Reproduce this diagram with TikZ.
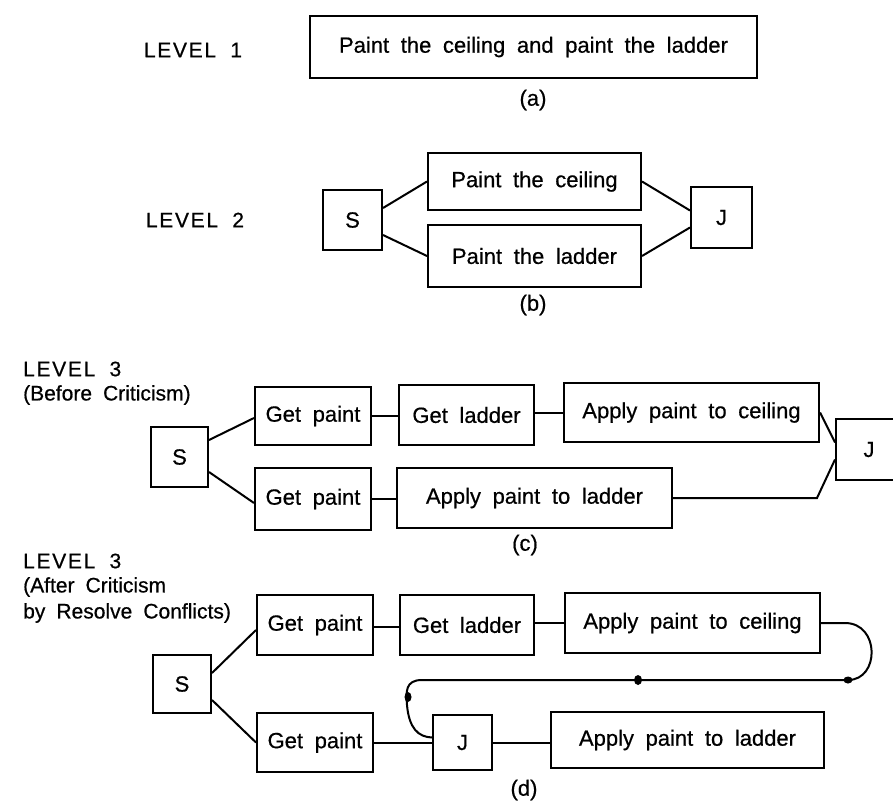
\documentclass[tikz,border=0pt]{standalone}
\usepackage{fontspec}
\setmainfont{Liberation Sans}[WordSpace=1.9, FakeBold=0.6]
\usetikzlibrary{calc}
\begin{document}
\begin{tikzpicture}[x=1pt,y=-1pt,
  every node/.style={font=\fontsize{22}{25}\selectfont},
  box/.style={draw, line width=2pt, rectangle, inner sep=0pt, align=center},
  sz/.style 2 args={minimum width=#1pt, minimum height=#2pt},
  lvl/.style={font=\fontsize{21}{24}\selectfont\addfontfeature{LetterSpace=8}},
  lft/.style={anchor=west, inner sep=0pt},
  sml/.style={font=\fontsize{21}{24}\selectfont},
  conn/.style={line width=2pt},
  blob/.style={fill=black}]
\useasboundingbox (0,0) rectangle (893,803);
\clip (0,0) rectangle (893,803);

% ---------- Level 1 ----------
\node[lvl] (t1) at (193,50) {LEVEL 1};
\node[box, sz={447}{62}] (L1) at (533.5,47) {Paint the ceiling and paint the ladder};
\node (ca) at (533,100) {(a)};

% ---------- Level 2 ----------
\node[lvl] (t2) at (195,220) {LEVEL 2};
\node[box, sz={59}{60}] (S2) at (352.5,220) {S};
\node[box, sz={213}{57}] (PC) at (534.5,181.5) {Paint the ceiling};
\node[box, sz={213}{62}] (PL) at (534.5,256) {Paint the ladder};
\node[box, sz={61}{61}] (J2) at (721.5,217.5) {J};
\node (cb) at (533,305) {(b)};
\draw[conn] ($(S2.east)+(0,-12)$) -- (PC.west);
\draw[conn] ($(S2.east)+(0,15)$) -- (PL.west);
\draw[conn] (PC.east) -- ($(J2.west)+(0,-7)$);
\draw[conn] (PL.east) -- ($(J2.west)+(0,10)$);

% ---------- Level 3 (c) ----------
\node[lvl, lft] (t3a) at (23,369) {LEVEL 3};
\node[sml, lft] (t3b) at (23,395) {(Before Criticism)};
\node[box, sz={57}{60}] (S3) at (179.5,457) {S};
\node[box, sz={116}{58}] (GP1) at (313,416) {Get paint};
\node[box, sz={135}{60}] (GL1) at (466.5,415) {Get ladder};
\node[box, sz={255}{59}] (AC1) at (691.5,412.5) {Apply paint to ceiling};
\node[box, sz={116}{62}] (GP2) at (313,499) {Get paint};
\node[box, sz={275}{60}] (AL1) at (534.5,498) {Apply paint to ladder};
\node[box, sz={66}{61}] (J3) at (869,449.5) {J};
\node (cc) at (525,545) {(c)};
\draw[conn] ($(S3.east)+(0,-17)$) -- ($(GP1.west)+(0,2)$);
\draw[conn] ($(S3.east)+(0,15)$) -- ($(GP2.west)+(0,4)$);
\draw[conn] (GP1.east) -- (GP1.east -| GL1.west);
\draw[conn] (AC1.west -| GL1.east) -- (AC1.west);
\draw[conn] (GP2.east) -- (GP2.east -| AL1.west);
\draw[conn] (AC1.east) -- ($(J3.west)+(0,-7)$);
\coordinate (c3bend) at (817,498);
\draw[conn] (AL1.east) -- (c3bend) -- ($(J3.west)+(0,10)$);

% ---------- Level 3 (d) ----------
\node[lvl, lft] (t4a) at (23,561) {LEVEL 3};
\node[sml, lft] (t4b) at (23,587) {(After Criticism};
\node[sml, lft] (t4c) at (23,613) {by Resolve Conflicts)};
\node[box, sz={58}{58}] (S4) at (182,684) {S};
\node[box, sz={116}{60}] (GP3) at (315,625) {Get paint};
\node[box, sz={134}{60}] (GL2) at (467,625) {Get ladder};
\node[box, sz={255}{60}] (AC2) at (692.5,623) {Apply paint to ceiling};
\node[box, sz={116}{59}] (GP4) at (315,742.5) {Get paint};
\node[box, sz={59}{55}] (J4) at (462.5,742.5) {J};
\node[box, sz={273}{56}] (AL2) at (687.5,740) {Apply paint to ladder};
\node (cd) at (524,790) {(d)};
\draw[conn] ($(S4.east)+(0,-11)$) -- ($(GP3.west)+(0,5)$);
\draw[conn] ($(S4.east)+(0,16)$) -- (GP4.west);
\draw[conn] ($(GP3.east)+(0,2)$) -- ($(GP3.east -| GL2.west)+(0,2)$);
\draw[conn] (AC2.west -| GL2.east) -- (AC2.west);
\draw[conn] (GP4.east) -- (J4.west);
\draw[conn] (J4.east) -- (J4.east -| AL2.west);
\coordinate (r0) at (845,623);
\coordinate (r1) at (848,680);
\coordinate (l0) at (422,680);
\coordinate (l1) at (407,705);
\draw[conn] (AC2.east) -- (r0) .. controls (880,623) and (880,680) .. (r1)
  -- (l0) .. controls (405,680) and (406,692) .. (l1)
  .. controls (409,728) and (418,737) .. ($(J4.west)+(0,-5)$);
\fill[blob] (r1) ellipse [x radius=4.5pt, y radius=3.5pt];
\fill[blob] (638,680) ellipse [x radius=4pt, y radius=5pt];
\fill[blob] (408,697) ellipse [x radius=3.5pt, y radius=5pt];
\end{tikzpicture}
\end{document}
